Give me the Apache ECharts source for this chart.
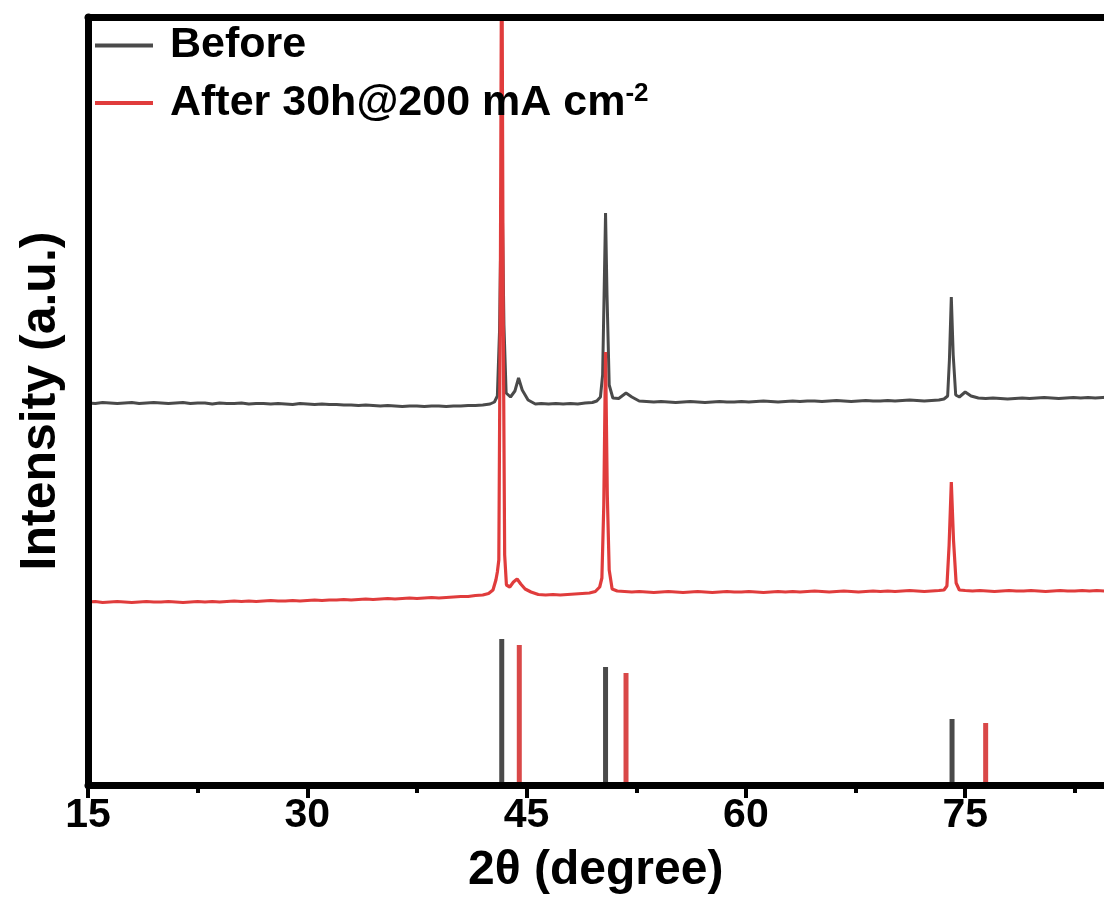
<!DOCTYPE html>
<html>
<head>
<meta charset="utf-8">
<script src="https://cdn.jsdelivr.net/npm/echarts@6/dist/echarts.min.js"></script>
<style>
  html, body { margin: 0; padding: 0; background: #ffffff; overflow: hidden; width: 1104px; height: 913px; }
  /* the plot frame continues past the right edge of the window */
  #chart { width: 1190px; height: 913px; }
</style>
</head>
<body>
<div id="chart"></div>
<script>
// XRD patterns: [2θ (degree), intensity (a.u., vertically offset)]
const before = [
  [15,382],[15.5,381.5],[16,382.5],[16.5,382],[17,381.5],[17.5,382],[18,382.5],[18.5,381.5],[19,382],[19.5,382.5],
  [20,382],[20.5,381.5],[21,382],[21.5,382.5],[22,381.5],[22.5,382],[23,382],[23.5,381],[24,382],[24.5,381.5],
  [25,381.5],[25.5,382],[26,381],[26.5,381.5],[27,381.5],[27.5,381],[28,381.5],[28.5,381],[29,380.5],[29.5,381.5],
  [30,381],[30.5,380.5],[31,381],[31.5,380.5],[32,380.5],[32.5,380],[33,380],[33.5,379.5],[34,380],[34.5,379.5],
  [35,379],[35.5,379.5],[36,379],[36.5,378.5],[37,379],[37.5,379],[38,378.5],[38.5,379],[39,379],[39.5,378.5],
  [40,379],[40.5,379],[41,379.5],[41.5,379.5],[42,380],[42.5,381],[42.8,383],[43.0,389],[43.15,455],[43.3,620],
  [43.45,460],[43.6,392],[43.9,388],[44.2,394],[44.45,407],[44.7,395],[45.1,385],[45.6,381],[46,381.5],[46.5,381],
  [47,381.5],[47.5,381],[48,381.5],[48.5,381],[49,382],[49.5,382.5],[49.8,384],[50.05,388],[50.2,410],[50.3,490],
  [50.4,572],[50.5,490],[50.65,400],[50.9,387],[51.3,386.5],[51.8,392],[52.2,388],[52.7,384],[53.2,383.5],[53.7,383],
  [54.2,383.5],[54.7,383],[55.2,382.5],[55.7,383],[56.2,383.5],[56.7,383],[57.2,382.5],[57.7,383],[58.2,383.5],[58.7,383],
  [59.2,383],[59.7,383.5],[60.2,383],[60.7,383.5],[61.2,384],[61.7,383.5],[62.2,383],[62.7,383.5],[63.2,384],[63.7,383.5],
  [64.2,384],[64.7,384],[65.2,383.5],[65.7,384],[66.2,384.5],[66.7,384],[67.2,383.5],[67.7,384],[68.2,384.5],[68.7,384],
  [69.2,384],[69.7,384.5],[70.2,384],[70.7,384.5],[71.2,385],[71.7,384.5],[72.2,384],[72.7,384.5],[73.2,385],[73.55,386],
  [73.8,389],[73.92,425],[74.05,488],[74.18,430],[74.35,390],[74.6,388],[75.0,393],[75.4,389],[75.9,387],[76.4,386.5],
  [76.9,387],[77.4,386.5],[77.9,386],[78.4,386.5],[78.9,387],[79.4,386.5],[79.9,387],[80.4,387.5],[80.9,387],[81.4,386.5],
  [81.9,387],[82.4,387.5],[82.9,387],[83.4,387.5],[83.9,387],[84.4,387.5],[84.9,388],[85.4,387.5]
];

const after = [
  [15,183],[15.5,183.5],[16,182.5],[16.5,183],[17,183.5],[17.5,183],[18,182.5],[18.5,183],[19,183.5],[19.5,183],
  [20,183],[20.5,183.5],[21,183],[21.5,182.5],[22,183],[22.5,183.5],[23,183],[23.5,183.5],[24,183],[24.5,183.5],
  [25,184],[25.5,183.5],[26,184],[26.5,183.5],[27,184],[27.5,184.5],[28,184],[28.5,184],[29,184.5],[29.5,184],
  [30,184.5],[30.5,185],[31,184.5],[31.5,185],[32,185],[32.5,185.5],[33,185],[33.5,185.5],[34,186],[34.5,185.5],
  [35,186],[35.5,186.5],[36,186],[36.5,186.5],[37,187],[37.5,186.5],[38,187],[38.5,187.5],[39,187],[39.5,187.5],
  [40,188],[40.5,188.5],[41,188.5],[41.5,189.5],[42,190],[42.4,191.5],[42.7,195],[42.9,205],[43.0,213],[43.1,225],
  [43.2,480],[43.3,900],[43.4,470],[43.5,230],[43.62,200],[43.85,198],[44.1,203],[44.35,206],[44.6,201],[44.9,196],
  [45.3,193],[45.8,190.5],[46.3,190],[46.8,190.5],[47.3,190],[47.8,190.5],[48.3,191],[48.8,191.5],[49.3,192],[49.7,193.5],
  [50.0,198],[50.15,207],[50.28,280],[50.4,433],[50.52,290],[50.65,215],[50.85,196],[51.2,194],[51.7,193.5],[52.2,193],
  [52.7,193.5],[53.2,193],[53.7,192.5],[54.2,193],[54.7,193.5],[55.2,193],[55.7,192.5],[56.2,193],[56.7,193.5],[57.2,193],
  [57.7,192.5],[58.2,193],[58.7,193.5],[59.2,193],[59.7,193],[60.2,193.5],[60.7,193],[61.2,192.5],[61.7,193],[62.2,193.5],
  [62.7,193],[63.2,193.5],[63.7,193],[64.2,193.5],[64.7,194],[65.2,193.5],[65.7,193],[66.2,193.5],[66.7,194],[67.2,193.5],
  [67.7,193],[68.2,193.5],[68.7,194],[69.2,193.5],[69.7,194],[70.2,193.5],[70.7,194],[71.2,194.5],[71.7,194],[72.2,193.5],
  [72.7,194],[73.2,194.5],[73.55,195],[73.75,199],[73.9,240],[74.05,303],[74.2,245],[74.38,202],[74.6,195],[75.0,194.5],
  [75.5,194],[76,194.5],[76.5,194],[77,193.5],[77.5,194],[78,194.5],[78.5,194],[79,194],[79.5,194.5],[80,194],
  [80.5,193.5],[81,194],[81.5,194.5],[82,194],[82.5,194],[83,194.5],[83.5,194],[84,194.5],[84.5,194],[85,194]
];

// Reference pattern sticks: [2θ, relative height]
const refCu = [[43.3,146],[50.4,118],[74.1,66]];
const refNi = [[44.5,140],[51.8,112],[76.4,62]];

// Axis settings
const xMin = 15, xMax = 90, xStep = 15;
const yMin = 0, yMax = 768;

const nameBefore = 'Before';
const nameAfter = 'After 30h@200 mA cm-2';

const FONT = '"Liberation Sans", Arial, sans-serif';
const GRAY = '#4a4a4a';
const RED = '#e03c3c';

const chart = echarts.init(document.getElementById('chart'), null, { renderer: 'canvas' });

chart.setOption({
  animation: false,
  backgroundColor: '#ffffff',
  grid: { left: 88, top: 17, right: 5.5, bottom: 128, containLabel: false },
  legend: {
    data: [nameBefore, nameAfter],
    orient: 'vertical',
    left: 95,
    top: 24,
    padding: 0,
    itemGap: 14,
    itemWidth: 58,
    itemHeight: 4,
    icon: 'rect',
    selectedMode: false,
    formatter: function (name) {
      if (name === nameAfter) return '{a|After 30h@200 mA cm}{s|-2}';
      return '{a|' + name + '}';
    },
    textStyle: {
      fontFamily: FONT,
      fontWeight: 'bold',
      fontSize: 43,
      color: '#000',
      rich: {
        a: { fontFamily: FONT, fontWeight: 'bold', fontSize: 43, lineHeight: 44, color: '#000', padding: [0, 0, 0, 12] },
        s: { fontFamily: FONT, fontWeight: 'bold', fontSize: 26, lineHeight: 26, color: '#000', verticalAlign: 'top' }
      }
    }
  },
  xAxis: [
    {
      type: 'value',
      position: 'bottom',
      min: xMin,
      max: xMax,
      interval: xStep,
      z: 5,
      name: '2θ (degree)',
      nameLocation: 'middle',
      nameGap: 62,
      nameTextStyle: {
        fontFamily: FONT, fontWeight: 'bold', fontSize: 48, color: '#000',
        padding: [0, 81, 0, 0]
      },
      axisLine: { show: true, onZero: false, lineStyle: { color: '#000', width: 7 } },
      axisTick: { show: true, inside: false, length: 13, lineStyle: { color: '#000', width: 4 } },
      minorTick: { show: true, splitNumber: 2, length: 8, lineStyle: { color: '#000', width: 4 } },
      axisLabel: {
        show: true, margin: 10, showMaxLabel: false,
        fontFamily: FONT, fontWeight: 'bold', fontSize: 41, color: '#000'
      },
      splitLine: { show: false }
    },
    {
      type: 'value',
      position: 'top',
      min: xMin,
      max: xMax,
      interval: xStep,
      z: 5,
      axisLine: { show: true, onZero: false, lineStyle: { color: '#000', width: 7 } },
      axisTick: { show: false },
      axisLabel: { show: false },
      splitLine: { show: false }
    }
  ],
  yAxis: {
    type: 'value',
    min: yMin,
    max: yMax,
    z: 5,
    name: 'Intensity (a.u.)',
    nameLocation: 'middle',
    nameGap: 22,
    nameTextStyle: { fontFamily: FONT, fontWeight: 'bold', fontSize: 50, color: '#000' },
    axisLine: { show: true, onZero: false, lineStyle: { color: '#000', width: 7 } },
    axisTick: { show: false },
    axisLabel: { show: false },
    splitLine: { show: false }
  },
  series: [
    {
      name: nameBefore,
      type: 'line',
      data: before,
      showSymbol: false,
      symbol: 'none',
      color: GRAY,
      lineStyle: { color: GRAY, width: 3 },
      clip: true,
      z: 2
    },
    {
      name: nameAfter,
      type: 'line',
      data: after,
      showSymbol: false,
      symbol: 'none',
      color: RED,
      lineStyle: { color: RED, width: 3.2 },
      clip: true,
      z: 3
    },
    {
      name: 'Cu reference',
      type: 'bar',
      data: refCu,
      barWidth: 5,
      barGap: '-100%',
      itemStyle: { color: GRAY },
      z: 2
    },
    {
      name: 'Ni reference',
      type: 'bar',
      data: refNi,
      barWidth: 5,
      barGap: '-100%',
      itemStyle: { color: '#d94848' },
      z: 2
    }
  ]
});
</script>
</body>
</html>
